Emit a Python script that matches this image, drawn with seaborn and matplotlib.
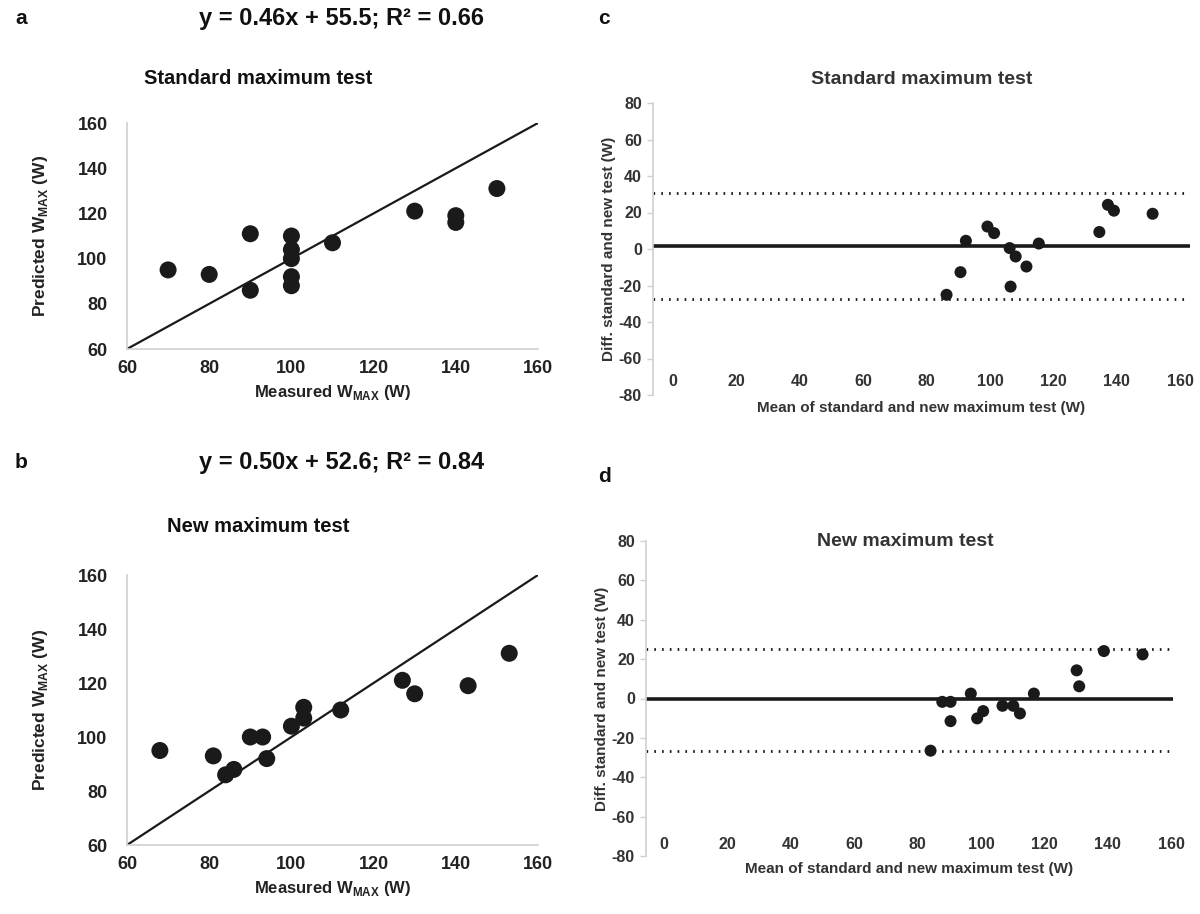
import numpy as np
import pandas as pd
import matplotlib
matplotlib.use("Agg")
import matplotlib.pyplot as plt
import seaborn as sns

# panel a: standard maximum test, measured vs predicted
std_measured = [70, 80, 90, 90, 100, 100, 100, 100, 100, 110, 130, 140, 140, 150]
std_predicted = [95, 93, 111, 86, 110, 104, 100, 92, 88, 107, 121, 119, 116, 131]

# panel b: new maximum test, measured vs predicted
new_measured = [68, 81, 84, 86, 90, 93, 94, 100, 103, 103, 112, 127, 130, 143, 153]
new_predicted = [95, 93, 86, 88, 100, 100, 92, 104, 107, 111, 110, 121, 116, 119, 131]

# panel c: Bland-Altman, standard maximum test
c_mean = [86.3, 90.7, 92.4, 99.2, 101.3, 106.2, 108.1, 106.5, 111.5, 115.4, 134.5, 137.2, 139.1, 151.3]
c_diff = [-25.1, -12.7, 4.5, 12.3, 8.7, 0.5, -4.1, -20.6, -9.6, 3.0, 9.3, 24.2, 21.0, 19.3]
c_bias = 1.9
c_limits = [30.7, -27.2]

# panel d: Bland-Altman, new maximum test
d_mean = [84.1, 87.8, 90.4, 90.4, 96.8, 98.8, 100.7, 106.8, 110.2, 112.3, 116.7, 130.2, 131.0, 138.8, 151.0]
d_diff = [-26.5, -1.7, -1.7, -11.5, 2.5, -10.1, -6.4, -3.7, -3.7, -7.6, 2.5, 14.3, 6.2, 24.1, 22.4]
d_bias = -0.5
d_limits = [25.3, -26.5]

identity = [60, 160]
equations = ["y = 0.46x + 55.5; R² = 0.66", "y = 0.50x + 52.6; R² = 0.84"]
titles = ["Standard maximum test", "New maximum test"]

sns.set_style("white")
plt.rcParams['font.family'] = ['Liberation Sans', 'DejaVu Sans']
plt.rcParams['font.weight'] = 'bold'
plt.rcParams['axes.unicode_minus'] = False
plt.rcParams['mathtext.fontset'] = 'custom'
plt.rcParams['mathtext.bf'] = 'Liberation Sans:bold'
plt.rcParams['mathtext.rm'] = 'Liberation Sans:bold'

fig = plt.figure(figsize=(12, 9.14), dpi=100)

ink = '#1a1a1a'
grey = '#d0d0d0'


def fx(px):
    return px / 1200


def fy(py):
    return 1 - py / 914


def axes_box(x0, y0, x1, y1):
    return fig.add_axes([fx(x0), fy(y1), fx(x1) - fx(x0), fy(y0) - fy(y1)])


def regression_panel(ax, xs, ys):
    df = pd.DataFrame({'x': xs, 'y': ys})
    sns.lineplot(x=identity, y=identity, ax=ax, color=ink, linewidth=1.6)
    sns.scatterplot(data=df, x='x', y='y', ax=ax, color=ink, s=150, edgecolor='none', zorder=3)
    ax.set_xlim(60, 160)
    ax.set_ylim(60, 160)
    ax.set_xticks(range(60, 161, 20))
    ax.set_yticks(range(60, 161, 20))
    ax.tick_params(axis='both', length=0, labelsize=13, labelcolor='#222222')
    ax.tick_params(axis='y', pad=14)
    ax.tick_params(axis='x', pad=8)
    for lab in ax.get_xticklabels() + ax.get_yticklabels():
        lab.set_fontweight('bold')
    for s in ['top', 'right']:
        ax.spines[s].set_visible(False)
    for s in ['left', 'bottom']:
        ax.spines[s].set_color(grey)
        ax.spines[s].set_linewidth(1.2)
    ax.set_xlabel(r'Measured W$_\mathbf{MAX}$ (W)', fontsize=12, fontweight='bold', color='#222222', labelpad=4)
    ax.set_ylabel(r'Predicted W$_\mathbf{MAX}$ (W)', fontsize=12.5, fontweight='bold', color='#222222', labelpad=20)


def bland_altman_panel(ax, xs, ys, bias, limits, xlim, label_pad):
    df = pd.DataFrame({'x': xs, 'y': ys})
    ax.axhline(bias, color=ink, linewidth=2.6, zorder=2)
    for lim in limits:
        ax.axhline(lim, color=ink, linewidth=2.0, linestyle=(0, (0.6, 2.2)), zorder=2)
    sns.scatterplot(data=df, x='x', y='y', ax=ax, color=ink, s=75, edgecolor='none', zorder=3)
    ax.set_xlim(*xlim)
    ax.set_ylim(-80, 80)
    ax.set_xticks(range(0, 161, 20))
    ax.set_yticks(range(-80, 81, 20))
    ax.tick_params(axis='y', length=4, width=1, color=grey, direction='out', labelsize=11.5,
                   labelcolor='#333333', pad=4, left=True)
    ax.tick_params(axis='x', length=0, labelsize=11.5, labelcolor='#333333', pad=label_pad)
    for lab in ax.get_xticklabels() + ax.get_yticklabels():
        lab.set_fontweight('bold')
    for s in ['top', 'right', 'bottom']:
        ax.spines[s].set_visible(False)
    ax.spines['left'].set_color(grey)
    ax.spines['left'].set_linewidth(1.2)
    ax.set_xlabel('Mean of standard and new maximum test (W)', fontsize=11, fontweight='bold',
                  color='#333333', labelpad=4)
    ax.set_ylabel('Diff. standard and new test (W)', fontsize=11, fontweight='bold',
                  color='#333333', labelpad=2)


ax_a = axes_box(127, 123, 538, 349)
regression_panel(ax_a, std_measured, std_predicted)

ax_b = axes_box(127, 575, 538, 845)
regression_panel(ax_b, new_measured, new_predicted)

ax_c = axes_box(653, 103, 1190, 395)
bland_altman_panel(ax_c, c_mean, c_diff, c_bias, c_limits, (-6.3, 163.1), -15)

ax_d = axes_box(646, 541, 1173, 856)
bland_altman_panel(ax_d, d_mean, d_diff, d_bias, d_limits, (-5.7, 160.6), -14)

# panel letters, equations and titles
txt = dict(fontweight='bold', color='#111111', va='center')
fig.text(fx(15), fy(18), 'a', fontsize=15, ha='left', **txt)
fig.text(fx(598), fy(18), 'c', fontsize=15, ha='left', **txt)
fig.text(fx(15), fy(463), 'b', fontsize=15, ha='left', **txt)
fig.text(fx(598), fy(476), 'd', fontsize=15, ha='left', **txt)

fig.text(fx(342), fy(18), equations[0], fontsize=17, ha='center', **txt)
fig.text(fx(342), fy(463), equations[1], fontsize=17, ha='center', **txt)

fig.text(fx(258), fy(79), titles[0], fontsize=14.5, ha='center', **txt)
fig.text(fx(258), fy(526), titles[1], fontsize=14.5, ha='center', **txt)
fig.text(fx(922), fy(79), titles[0], fontsize=14, ha='center', color='#333333',
         fontweight='bold', va='center')
fig.text(fx(905), fy(542), titles[1], fontsize=14, ha='center', color='#333333',
         fontweight='bold', va='center')

fig.savefig('out.png', dpi=100)
